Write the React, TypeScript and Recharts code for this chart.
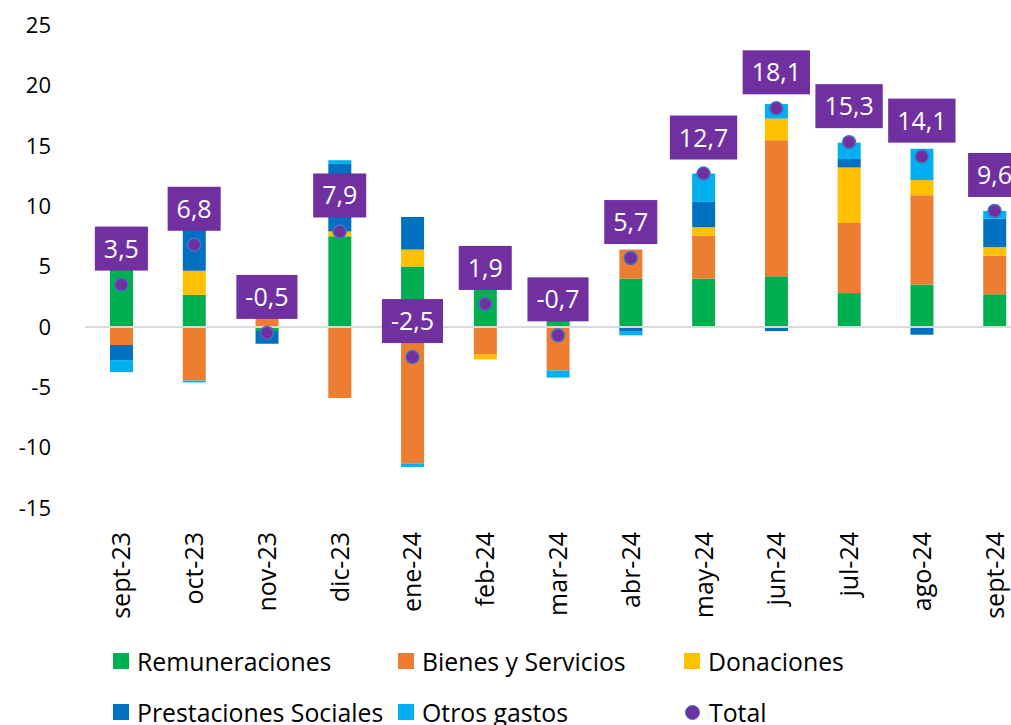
import React from 'react';
import { ComposedChart, Bar, Line, XAxis, YAxis, ReferenceLine, LabelList } from 'recharts';

const months = ['sept-23', 'oct-23', 'nov-23', 'dic-23', 'ene-24', 'feb-24', 'mar-24', 'abr-24', 'may-24', 'jun-24', 'jul-24', 'ago-24', 'sept-24'];
const remuneraciones = [7.25, 2.65, -0.35, 7.5, 5.0, 4.6, 3.5, 4.0, 4.0, 4.2, 2.8, 3.5, 2.7];
const bienesServicios = [-1.5, -4.45, 0.9, -5.9, -11.3, -2.3, -3.6, 2.4, 3.55, 11.25, 5.8, 7.4, 3.2];
const donaciones = [0, 2.0, 0, 0.4, 1.4, -0.4, 0, -0.05, 0.7, 1.8, 4.6, 1.25, 0.7];
const prestaciones = [-1.25, 6.75, -1.05, 5.6, 2.7, 0, 0, -0.35, 2.1, -0.35, 0.7, -0.65, 2.35];
const otrosGastos = [-1.0, -0.15, 0, 0.3, -0.3, 0, -0.6, -0.3, 2.35, 1.2, 1.35, 2.6, 0.65];
const totals = [3.5, 6.8, -0.5, 7.9, -2.5, 1.9, -0.7, 5.7, 12.7, 18.1, 15.3, 14.1, 9.6];
const yTicks = [-15, -10, -5, 0, 5, 10, 15, 20, 25];

const series = [
  { key: 'rem', name: 'Remuneraciones', color: '#00B050', values: remuneraciones },
  { key: 'bys', name: 'Bienes y Servicios', color: '#ED7D31', values: bienesServicios },
  { key: 'don', name: 'Donaciones', color: '#FFC000', values: donaciones },
  { key: 'pre', name: 'Prestaciones Sociales', color: '#0070C0', values: prestaciones },
  { key: 'otr', name: 'Otros gastos', color: '#00B0F0', values: otrosGastos },
];

const data = months.map((m, i) => {
  const row: any = { month: m, total: totals[i] };
  series.forEach((s) => { row[s.key] = s.values[i]; });
  return row;
});

const FONT = '"Open Sans", Lato, sans-serif';
const fmt = (v: number) => v.toFixed(1).replace('.', ',');
const charEm = (c: string) => (c === ',' ? 0.258 : c === '-' ? 0.322 : 0.572);

const XTick = (props: any) => {
  const { x, y, payload } = props;
  return (
    <g transform={`translate(${x},${y + 16}) rotate(-90)`}>
      <text x={0} y={0} dy="0.36em" textAnchor="end" fontSize={25} fill="#000" fontFamily={FONT}>
        {payload.value}
      </text>
    </g>
  );
};

const TotalLabel = (props: any) => {
  const { x, y, value } = props;
  const text = fmt(Number(value));
  const fs = 25;
  const w = text.split('').reduce((a, c) => a + charEm(c), 0) * fs + 18;
  const h = 44;
  const bottom = y - 14;
  return (
    <g>
      <rect x={x - w / 2} y={bottom - h} width={w} height={h} fill="#7030A0" />
      <text x={x} y={bottom - h / 2} dy="0.36em" textAnchor="middle" fontSize={fs} fill="#fff" fontFamily={FONT}>
        {text}
      </text>
    </g>
  );
};

const legendItems = [
  { name: 'Remuneraciones', color: '#00B050', shape: 'square', left: 113, top: 661 },
  { name: 'Bienes y Servicios', color: '#ED7D31', shape: 'square', left: 398, top: 661 },
  { name: 'Donaciones', color: '#FFC000', shape: 'square', left: 684, top: 661 },
  { name: 'Prestaciones Sociales', color: '#0070C0', shape: 'square', left: 113, top: 712 },
  { name: 'Otros gastos', color: '#00B0F0', shape: 'square', left: 398, top: 712 },
  { name: 'Total', color: '#7030A0', shape: 'circle', left: 684, top: 712 },
];

export default function App() {
  return (
    <div style={{ position: 'fixed', left: 0, top: 0, width: 1011, height: 725, overflow: 'hidden', background: '#fff', fontFamily: FONT }}>
      <ComposedChart
        width={1040}
        height={725}
        data={data}
        stackOffset="sign"
        margin={{ top: 25, right: 9, left: 0, bottom: 87 }}
      >
        <XAxis dataKey="month" axisLine={false} tickLine={false} height={130} tick={<XTick />} interval={0} />
        <YAxis
          width={85}
          domain={[-15, 25]}
          ticks={yTicks}
          axisLine={false}
          tickLine={false}
          tickMargin={28}
          tick={{ fontSize: 22, fill: '#000', fontFamily: FONT }}
        />
        <ReferenceLine y={0} stroke="#D9D9D9" strokeWidth={2} />
        {series.map((s) => (
          <Bar key={s.key} dataKey={s.key} name={s.name} stackId="a" fill={s.color} barSize={23} isAnimationActive={false} />
        ))}
        <Line
          dataKey="total"
          name="Total"
          stroke="none"
          isAnimationActive={false}
          dot={{ r: 6.5, fill: '#7030A0', stroke: '#4472C4', strokeWidth: 1.5 }}
          activeDot={false}
        >
          <LabelList dataKey="total" content={<TotalLabel />} />
        </Line>
      </ComposedChart>
      {legendItems.map((it) => (
        <div key={it.name} style={{ position: 'absolute', left: it.left, top: it.top - 16, height: 32, display: 'flex', alignItems: 'center', fontSize: 24.8, color: '#000', whiteSpace: 'nowrap' }}>
          {it.shape === 'square' ? (
            <span style={{ display: 'inline-block', width: 16, height: 16, background: it.color, marginRight: 8 }} />
          ) : (
            <span style={{ display: 'inline-block', width: 13, height: 13, borderRadius: '50%', background: it.color, border: '1.5px solid #4472C4', marginLeft: 1, marginRight: 9 }} />
          )}
          <span>{it.name}</span>
        </div>
      ))}
    </div>
  );
}
